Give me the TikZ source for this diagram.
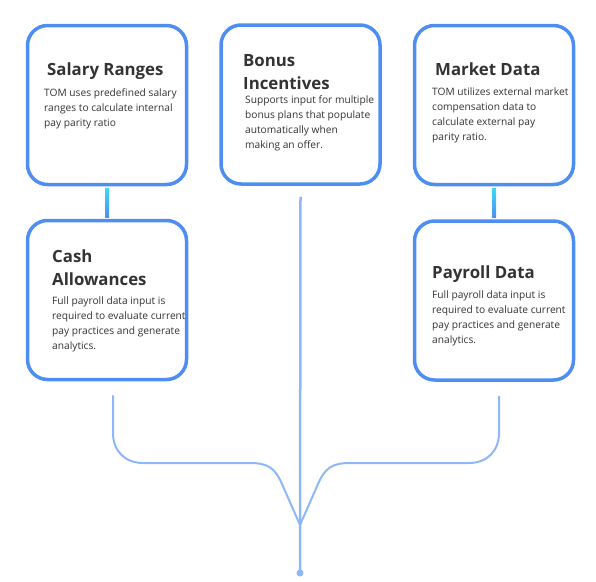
\documentclass[tikz,border=0pt]{standalone}
\usepackage{fontspec}
\setmainfont{Open Sans}
\usetikzlibrary{positioning}
\definecolor{cardblue}{HTML}{4E8EF0}
\definecolor{wireblue}{HTML}{8DB7F6}
\definecolor{linkcyan}{HTML}{3CD9F4}
\definecolor{inkgray}{HTML}{333333}

\begin{document}
\begin{tikzpicture}[x=1pt,y=-1pt,
        card/.style={
            rectangle,
            rounded corners=20pt,
            minimum width=159pt,
            minimum height=159pt,
            draw=cardblue,
            fill=white,
            line width=3.5pt
        },
        head/.style={
            anchor=base west,
            inner sep=0pt,
            align=left,
            text=inkgray,
            font=\fontsize{16.8}{23}\selectfont\bfseries
        },
        body/.style={
            anchor=base west,
            inner sep=0pt,
            align=left,
            text=inkgray,
            font=\fontsize{10.2}{15}\selectfont
        },
        wire/.style={
            draw=wireblue,
            line width=2pt,
            line join=round
        }
    ]
        \useasboundingbox (0,0) rectangle (596,581);

        \node (sal) [card] at (107,105) {};
        \node (bonus) [card] at (300.5,104.5) {};
        \node (mkt) [card] at (494,105) {};
        \node (cash) [card] at (107,300) {};
        \node (pay) [card] at (494,300.5) {};

        % upright links between the stacked cards
        \shade [top color=linkcyan, bottom color=cardblue] ([xshift=-2pt,yshift=-1.75pt]sal.south) rectangle ([xshift=2pt,yshift=1.75pt]cash.north);
        \shade [top color=linkcyan, bottom color=cardblue] ([xshift=-2pt,yshift=-1.75pt]mkt.south) rectangle ([xshift=2pt,yshift=1.75pt]pay.north);

        % texts sit on the baseline of their last line
        \node (salhead) [head] at (47,75) {Salary Ranges};
        \node (saltext) [body] at (44,126) {TOM uses predefined salary\\ranges to calculate internal\\pay parity ratio};

        \node (bonushead) [head] at (243,89) {Bonus\\Incentives};
        \node (bonustext) [body] at (245,148) {Supports input for multiple\\bonus plans that populate\\automatically when\\making an offer.};

        \node (mkthead) [head] at (435,75) {Market Data};
        \node (mkttext) [body] at (432,140) {TOM utilizes external market\\compensation data to\\calculate external pay\\parity ratio.};

        \node (cashhead) [head] at (52,285) {Cash\\Allowances};
        \node (cashtext) [body] at (52,349) {Full payroll data input is\\required to evaluate current\\pay practices and generate\\analytics.};

        \node (payhead) [head] at (432,278) {Payroll Data};
        \node (paytext) [body] at (432,343) {Full payroll data input is\\required to evaluate current\\pay practices and generate\\analytics.};

        % merging wires
        \coordinate (join) at (300,525);
        \coordinate (tip) at (300,573);
        \draw [wire, line width=2.5pt] ([yshift=-11pt]bonus.south) -- (tip);
        \draw [wire] ([xshift=6pt,yshift=-14pt]cash.south) -- (113,433) .. controls (113,451) and (125,463) .. (143,463) -- (250,463) .. controls (268,463) and (275,468) .. (282,484) -- (join);
        \draw [wire] ([xshift=5pt,yshift=-14pt]pay.south) -- (499,433) .. controls (499,451) and (487,463) .. (469,463) -- (350,463) .. controls (332,463) and (325,468) .. (318,484) -- (join);
        \fill [wireblue] (tip) circle (3.5pt);
    \end{tikzpicture}
\end{document}
